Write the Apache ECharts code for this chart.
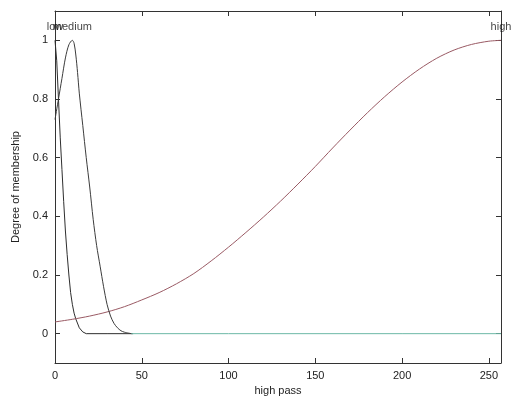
<!DOCTYPE html>
<html>
<head>
<meta charset="utf-8">
<script src="https://cdn.jsdelivr.net/npm/echarts@6/dist/echarts.min.js"></script>
<style>html,body{margin:0;padding:0;background:#fff;}#c{width:517px;height:403px;}</style>
</head>
<body>
<div id="c"></div>
<script>
// Data
var lowX  = [0, 1, 2, 3, 4, 5, 6, 7, 8, 9, 10, 11, 12, 14, 16, 18, 30, 45];
var lowY  = [1.0, 0.93, 0.8, 0.67, 0.56, 0.45, 0.35, 0.27, 0.2, 0.14, 0.1, 0.07, 0.05, 0.02, 0.006, 0, 0, 0];
var medX  = [0, 2, 4, 6, 8, 10, 11, 12, 13, 14, 16, 18, 20, 22, 24, 26, 28, 30, 32, 34, 36, 38, 40, 44, 100, 200, 257];
var medY  = [0.73, 0.8, 0.87, 0.94, 0.985, 1.0, 0.99, 0.95, 0.89, 0.82, 0.71, 0.6, 0.5, 0.39, 0.3, 0.23, 0.16, 0.1, 0.06, 0.035, 0.02, 0.01, 0.005, 0, 0, 0, 0];
var highX = [0, 10, 20, 30, 40, 50, 60, 70, 80, 90, 100, 110, 120, 130, 140, 150, 160, 170, 180, 190, 200, 210, 220, 230, 240, 250, 257];
var highY = [0.04, 0.049, 0.06, 0.074, 0.092, 0.115, 0.14, 0.17, 0.205, 0.248, 0.295, 0.345, 0.397, 0.452, 0.51, 0.57, 0.633, 0.694, 0.753, 0.808, 0.858, 0.902, 0.939, 0.967, 0.986, 0.997, 1.0];
var mfNames = ['low', 'medium', 'high'];
var mfLabelX = [0, 10, 257];
var mfLabelY = [1.045, 1.045, 1.045];
var xTicks = [0, 50, 100, 150, 200, 250];
var yTicks = [0, 0.2, 0.4, 0.6, 0.8, 1];
var medTailStart = 44;

function zip(xs, ys) { return xs.map(function (x, i) { return [x, ys[i]]; }); }
var medAll = zip(medX, medY);
var medHead = medAll.filter(function (p) { return p[0] <= medTailStart; });
var medTail = medAll.filter(function (p) { return p[0] >= medTailStart; });

var chart = echarts.init(document.getElementById('c'), null, {renderer: 'canvas'});
var font = 'Liberation Sans, Arial, sans-serif';
function axisLine() { return {show: true, onZero: false, lineStyle: {color: '#333', width: 1}}; }
function tickIn(vals) { return {show: true, inside: true, length: 5, customValues: vals, lineStyle: {color: '#333'}}; }

chart.setOption({
  animation: false,
  backgroundColor: '#fff',
  grid: {left: 55, right: 16, top: 11, bottom: 40, containLabel: false},
  xAxis: [{
    type: 'value', min: 0, max: 257,
    name: 'high pass', nameLocation: 'middle', nameGap: 22,
    nameTextStyle: {fontFamily: font, fontSize: 11, color: '#222'},
    axisLine: axisLine(),
    axisTick: tickIn(xTicks),
    axisLabel: {customValues: xTicks, fontFamily: font, fontSize: 11, color: '#222', margin: 7},
    splitLine: {show: false}
  }, {
    type: 'value', position: 'top', min: 0, max: 257,
    axisLine: axisLine(),
    axisTick: tickIn(xTicks),
    axisLabel: {show: false}, splitLine: {show: false}
  }],
  yAxis: [{
    type: 'value', min: -0.1, max: 1.1,
    name: 'Degree of membership', nameLocation: 'middle', nameGap: 28, nameRotate: 90,
    nameTextStyle: {fontFamily: font, fontSize: 11, color: '#222'},
    axisLine: axisLine(),
    axisTick: tickIn(yTicks),
    axisLabel: {customValues: yTicks, fontFamily: font, fontSize: 11, color: '#222', margin: 7,
      formatter: function (v) { return String(Math.round(v * 10) / 10); }},
    splitLine: {show: false}
  }, {
    type: 'value', position: 'right', min: -0.1, max: 1.1,
    axisLine: axisLine(),
    axisTick: tickIn(yTicks),
    axisLabel: {show: false}, splitLine: {show: false}
  }],
  series: [{
    name: 'low', type: 'line', data: zip(lowX, lowY), showSymbol: false,
    lineStyle: {color: '#2e2e2e', width: 1}, itemStyle: {color: '#2e2e2e'}, z: 3
  }, {
    name: 'medium', type: 'line', data: medHead, showSymbol: false, smooth: 0.3,
    lineStyle: {color: '#3c3c3c', width: 1}, itemStyle: {color: '#3c3c3c'}, z: 4
  }, {
    name: 'medium tail', type: 'line', data: medTail, showSymbol: false,
    lineStyle: {color: '#6cb8a6', width: 1}, itemStyle: {color: '#6cb8a6'}, z: 4
  }, {
    name: 'high', type: 'line', data: zip(highX, highY), showSymbol: false, smooth: 0.3,
    lineStyle: {color: '#9a5a64', width: 1}, itemStyle: {color: '#9a5a64'}, z: 3
  }, {
    name: 'labels', type: 'scatter', symbolSize: 0, silent: true,
    data: mfNames.map(function (n, i) { return {name: n, value: [mfLabelX[i], mfLabelY[i]]}; }),
    label: {show: true, position: 'inside', formatter: '{b}', fontFamily: font, fontSize: 11, color: '#111'},
    z: 10
  }]
});
</script>
</body>
</html>
